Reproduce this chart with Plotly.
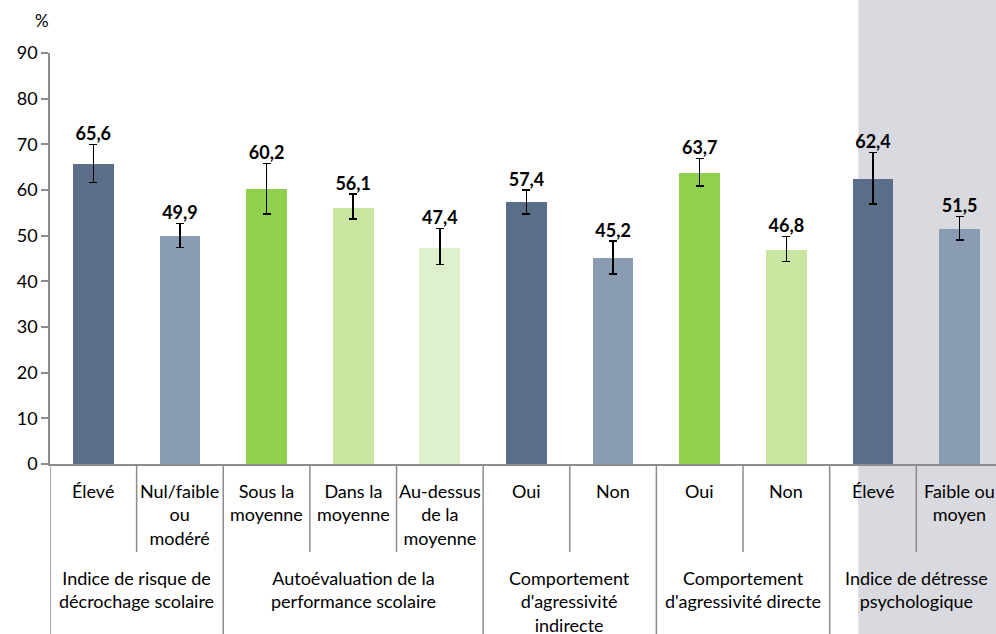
import plotly.graph_objects as go

# ─── Données ────────────────────────────────────────────────────────────────
groupes = [
    "Indice de risque de<br>décrochage scolaire",
    "Autoévaluation de la<br>performance scolaire",
    "Comportement<br>d'agressivité<br>indirecte",
    "Comportement<br>d'agressivité directe",
    "Indice de détresse<br>psychologique",
]
taille_groupes = [2, 3, 2, 2, 2]

categories = [
    "Élevé", "Nul/faible<br>ou<br>modéré",
    "Sous la<br>moyenne", "Dans la<br>moyenne", "Au-dessus<br>de la<br>moyenne",
    "Oui", "Non",
    "Oui", "Non",
    "Élevé", "Faible ou<br>moyen",
]
valeurs = [65.6, 49.9, 60.2, 56.1, 47.4, 57.4, 45.2, 63.7, 46.8, 62.4, 51.5]
erreur_plus = [4.4, 2.8, 5.6, 3.0, 4.2, 2.6, 3.6, 3.2, 3.0, 5.8, 2.7]
erreur_moins = [4.0, 2.5, 5.4, 2.4, 3.7, 2.6, 3.6, 2.8, 2.5, 5.5, 2.4]

COULEURS = {
    "fonce":  "#5A6E87",
    "clair":  "#8A9CB2",
    "vert":   "#92D050",
    "vert2":  "#C8E6A0",
    "vert3":  "#DFF0CE",
}
couleurs_barres = [
    COULEURS["fonce"], COULEURS["clair"],
    COULEURS["vert"], COULEURS["vert2"], COULEURS["vert3"],
    COULEURS["fonce"], COULEURS["clair"],
    COULEURS["vert"], COULEURS["vert2"],
    COULEURS["fonce"], COULEURS["clair"],
]

POLICE = "Lato, 'Liberation Sans', sans-serif"
GRIS = "#8C8C8C"
x = list(range(len(categories)))

fig = go.Figure()

fig.add_trace(go.Bar(
    x=x,
    y=valeurs,
    width=0.47,
    marker=dict(color=couleurs_barres, line=dict(width=0)),
    error_y=dict(
        type="data", symmetric=False,
        array=erreur_plus, arrayminus=erreur_moins,
        color="black", thickness=1.5, width=4,
    ),
    hoverinfo="skip",
))

# étiquettes de valeur au-dessus des barres d'erreur
fig.add_trace(go.Scatter(
    x=x,
    y=[v + e for v, e in zip(valeurs, erreur_plus)],
    mode="text",
    text=[f"<b>{v:.1f}</b>".replace(".", ",") for v in valeurs],
    textposition="top center",
    textfont=dict(size=18, color="black", family=POLICE),
    hoverinfo="skip",
))

shapes = []
annotations = []

# zone grisée (détresse psychologique)
shapes.append(dict(
    type="rect", xref="x", yref="paper",
    x0=8.83, x1=11, y0=-0.5, y1=1.2,
    fillcolor="#D9DADF", line=dict(width=0), layer="below",
))

# étiquettes des sous-catégories et séparateurs courts
for i, cat in enumerate(categories):
    annotations.append(dict(
        x=i, y=0, xref="x", yref="paper", yanchor="top",
        yshift=-14, text=cat, showarrow=False,
        font=dict(size=18, color="black", family=POLICE),
    ))

debut = 0
bornes_groupes = [-0.5]
for g, n in zip(groupes, taille_groupes):
    centre = debut + (n - 1) / 2
    annotations.append(dict(
        x=centre, y=0, xref="x", yref="paper", yanchor="top",
        yshift=-101, text=g, showarrow=False,
        font=dict(size=18, color="black", family=POLICE),
    ))
    for k in range(1, n):
        xs = debut + k - 0.5
        shapes.append(dict(
            type="line", xref="x", yref="paper",
            x0=xs, x1=xs, y0=0, y1=-88 / 411,
            line=dict(color=GRIS, width=1.5),
        ))
    debut += n
    bornes_groupes.append(debut - 0.5)

for xs in bornes_groupes:
    shapes.append(dict(
        type="line", xref="x", yref="paper",
        x0=xs, x1=xs, y0=0, y1=-0.5,
        line=dict(color=GRIS, width=1.5),
    ))

annotations.append(dict(
    x=0, y=1, xref="paper", yref="paper", xanchor="center", yanchor="bottom",
    xshift=-8, yshift=20, text="%", showarrow=False,
    font=dict(size=17, color="black", family=POLICE),
))

fig.update_layout(
    width=996, height=634,
    margin=dict(l=50, r=0, t=53, b=170),
    paper_bgcolor="white",
    plot_bgcolor="rgba(0,0,0,0)",
    showlegend=False,
    bargap=0,
    font=dict(family=POLICE, color="black"),
    xaxis=dict(
        range=[-0.5, 10.42],
        showticklabels=False, ticks="",
        showgrid=False, zeroline=False,
        showline=True, linecolor=GRIS, linewidth=1.5,
    ),
    yaxis=dict(
        range=[0, 90], dtick=10,
        ticks="outside", ticklen=7, tickcolor=GRIS, tickwidth=1.5,
        showgrid=False, zeroline=False,
        showline=True, linecolor=GRIS, linewidth=1.5,
        tickfont=dict(size=18, color="black", family=POLICE),
    ),
    shapes=shapes,
    annotations=annotations,
)

fig.write_html(
    "out.html",
    config={"displayModeBar": False},
    post_script="document.body.style.margin='0';",
)
